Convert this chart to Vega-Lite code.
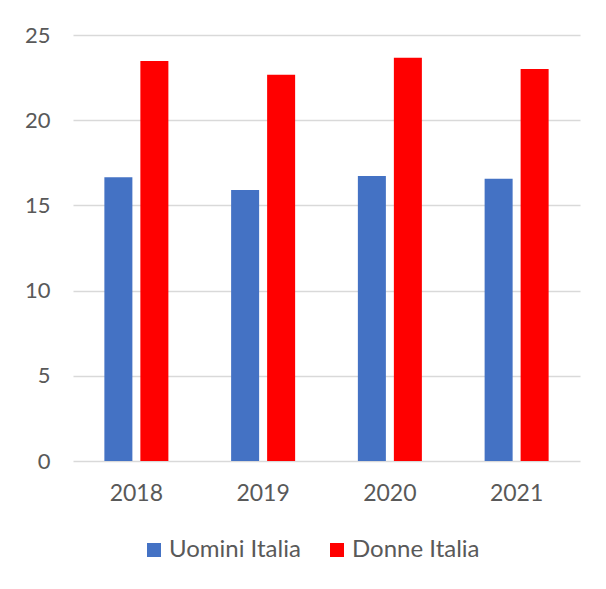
{
  "$schema": "https://vega.github.io/schema/vega-lite/v6.json",
  "autosize": "none",
  "width": 507,
  "height": 426,
  "padding": {"left": 73, "top": 35, "right": 26, "bottom": 128},
  "background": "white",
  "data": {"values": [
    {"anno": "2018", "serie": "Uomini Italia", "valore": 16.65},
    {"anno": "2018", "serie": "Donne Italia", "valore": 23.48},
    {"anno": "2019", "serie": "Uomini Italia", "valore": 15.9},
    {"anno": "2019", "serie": "Donne Italia", "valore": 22.67},
    {"anno": "2020", "serie": "Uomini Italia", "valore": 16.73},
    {"anno": "2020", "serie": "Donne Italia", "valore": 23.66},
    {"anno": "2021", "serie": "Uomini Italia", "valore": 16.56},
    {"anno": "2021", "serie": "Donne Italia", "valore": 23.0}
  ]},
  "mark": {"type": "bar"},
  "encoding": {
    "x": {"field": "anno", "type": "nominal", "title": null,
      "scale": {"paddingInner": 0.495, "paddingOuter": 0.2475},
      "axis": {"labelAngle": 0, "ticks": false, "domain": false, "labelPadding": 21, "labelFontSize": 23, "labelColor": "#595959", "labelFont": "Lato"}},
    "xOffset": {"field": "serie", "sort": ["Uomini Italia", "Donne Italia"], "scale": {"paddingInner": 0.222, "paddingOuter": 0}},
    "y": {"field": "valore", "type": "quantitative", "title": null,
      "scale": {"domain": [0, 25], "nice": false},
      "axis": {"values": [0, 5, 10, 15, 20, 25], "ticks": false, "domain": false, "labelPadding": 23, "labelFontSize": 22, "labelColor": "#595959", "labelFont": "Lato", "gridColor": "#d9d9d9", "gridWidth": 1.5}},
    "color": {"field": "serie", "type": "nominal", "sort": ["Uomini Italia", "Donne Italia"],
      "scale": {"domain": ["Uomini Italia", "Donne Italia"], "range": ["#4472C4", "#FF0000"]},
      "legend": {"title": null, "orient": "none", "legendX": 69, "legendY": 503, "direction": "horizontal", "symbolType": "square", "symbolSize": 196, "symbolStrokeWidth": 0, "labelFontSize": 24, "labelColor": "#595959", "labelFont": "Lato", "labelOffset": 3, "columnPadding": 24}}
  },
  "config": {"view": {"stroke": null}}
}
